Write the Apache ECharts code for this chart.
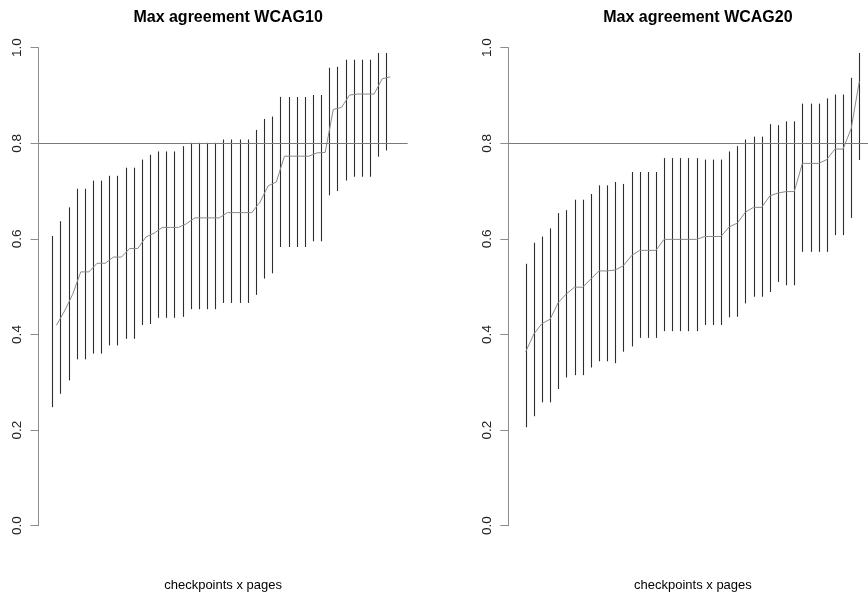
<!DOCTYPE html>
<html>
<head>
<meta charset="utf-8">
<script src="https://cdn.jsdelivr.net/npm/echarts@6/dist/echarts.min.js"></script>
<style>
  html, body { margin: 0; padding: 0; background: #fff; }
  #chart { width: 868px; height: 593px; }
</style>
</head>
<body>
<div id="chart"></div>
<script>
// ---- Data ----
var titles = ['Max agreement WCAG10', 'Max agreement WCAG20'];
var xLabel = 'checkpoints x pages';
var yTicks = [0.0, 0.2, 0.4, 0.6, 0.8, 1.0];
var threshold = 0.8;

var wcag10Low = [0.248, 0.276, 0.304, 0.348, 0.348, 0.360, 0.360, 0.377, 0.377, 0.391,
                 0.391, 0.420, 0.422, 0.435, 0.435, 0.435, 0.437, 0.453, 0.453, 0.453,
                 0.453, 0.466, 0.466, 0.466, 0.466, 0.483, 0.517, 0.528, 0.583, 0.583,
                 0.583, 0.583, 0.595, 0.595, 0.691, 0.700, 0.722, 0.730, 0.730, 0.730,
                 0.772, 0.785];
var wcag10High = [0.606, 0.637, 0.666, 0.705, 0.705, 0.722, 0.722, 0.732, 0.732, 0.749,
                  0.749, 0.766, 0.776, 0.783, 0.783, 0.783, 0.794, 0.801, 0.801, 0.801,
                  0.801, 0.808, 0.808, 0.808, 0.808, 0.828, 0.851, 0.856, 0.897, 0.897,
                  0.897, 0.897, 0.901, 0.901, 0.958, 0.960, 0.975, 0.975, 0.975, 0.975,
                  0.989, 0.989];
var wcag10Mid = [0.419, 0.449, 0.484, 0.531, 0.531, 0.549, 0.549, 0.562, 0.562, 0.580,
                 0.580, 0.604, 0.612, 0.624, 0.624, 0.624, 0.632, 0.644, 0.644, 0.644,
                 0.644, 0.655, 0.655, 0.655, 0.655, 0.677, 0.711, 0.719, 0.773, 0.773,
                 0.773, 0.773, 0.780, 0.781, 0.871, 0.875, 0.901, 0.903, 0.903, 0.903,
                 0.935, 0.939];

var wcag20Low = [0.206, 0.229, 0.258, 0.258, 0.286, 0.310, 0.315, 0.315, 0.331, 0.344,
                 0.344, 0.340, 0.364, 0.375, 0.393, 0.393, 0.393, 0.407, 0.407, 0.407,
                 0.407, 0.407, 0.420, 0.420, 0.420, 0.436, 0.437, 0.465, 0.479, 0.479,
                 0.489, 0.510, 0.503, 0.503, 0.573, 0.573, 0.573, 0.573, 0.608, 0.608,
                 0.644, 0.765];
var wcag20High = [0.548, 0.592, 0.605, 0.622, 0.654, 0.660, 0.682, 0.682, 0.694, 0.712,
                  0.712, 0.719, 0.715, 0.740, 0.740, 0.740, 0.740, 0.769, 0.769, 0.769,
                  0.769, 0.769, 0.766, 0.766, 0.766, 0.783, 0.794, 0.808, 0.814, 0.814,
                  0.840, 0.838, 0.846, 0.846, 0.883, 0.883, 0.883, 0.894, 0.902, 0.902,
                  0.937, 0.989];
var wcag20Mid = [0.364, 0.401, 0.423, 0.432, 0.467, 0.485, 0.499, 0.499, 0.516, 0.533,
                 0.533, 0.535, 0.544, 0.565, 0.576, 0.576, 0.576, 0.599, 0.599, 0.599,
                 0.599, 0.599, 0.605, 0.605, 0.605, 0.625, 0.633, 0.656, 0.666, 0.666,
                 0.690, 0.696, 0.699, 0.699, 0.758, 0.758, 0.758, 0.766, 0.788, 0.788,
                 0.831, 0.930];

// ---- Build ----
var FONT = '"Liberation Sans", Arial, Helvetica, sans-serif';
function ranges(low, high) {
  return low.map(function (l, i) { return [i + 1, l, high[i]]; });
}
function midLine(mid, shift) {
  return mid.map(function (m, i) { return [i + 1 + shift, m]; });
}
function renderRange(params, api) {
  var x = api.value(0);
  var p1 = api.coord([x, api.value(1)]);
  var p2 = api.coord([x, api.value(2)]);
  return {
    type: 'line',
    shape: { x1: Math.round(p1[0]) + 0.5, y1: p1[1], x2: Math.round(p2[0]) + 0.5, y2: p2[1] },
    style: { stroke: '#2e2e2e', lineWidth: 1.1 }
  };
}

var panels = [
  { left: 38.5, xmin: -0.69, xmax: 44.63, low: wcag10Low, high: wcag10High, mid: wcag10Mid, shift: 0.5 },
  { left: 508.3, xmin: -1.14, xmax: 44.23, low: wcag20Low, high: wcag20High, mid: wcag20Mid, shift: 0 }
];
var plotWidth = 369.2;

var option = {
  animation: false,
  backgroundColor: '#ffffff',
  title: panels.map(function (p, k) {
    return {
      text: titles[k],
      left: p.left + plotWidth / 2,
      top: 5,
      textAlign: 'center',
      textStyle: { fontFamily: FONT, fontSize: 16, fontWeight: 'bold', color: '#000' }
    };
  }),
  grid: panels.map(function (p) {
    return { left: p.left, width: plotWidth, top: 47.7, height: 478,
             containLabel: false, outerBoundsMode: 'none' };
  }),
  xAxis: panels.map(function (p, k) {
    return {
      type: 'value', gridIndex: k, min: p.xmin, max: p.xmax,
      name: xLabel, nameLocation: 'middle', nameGap: 53,
      nameTextStyle: { fontFamily: FONT, fontSize: 13, color: '#000' },
      axisLine: { show: false }, axisTick: { show: false },
      axisLabel: { show: false }, splitLine: { show: false }
    };
  }),
  yAxis: panels.map(function (p, k) {
    return {
      type: 'value', gridIndex: k, min: yTicks[0], max: yTicks[yTicks.length - 1], interval: 0.2,
      axisLine: { show: true, onZero: false, lineStyle: { color: '#8c8c8c', width: 1 } },
      axisTick: { show: true, length: 8, lineStyle: { color: '#8c8c8c', width: 1 } },
      axisLabel: {
        rotate: 90, margin: 14, fontFamily: FONT, fontSize: 13.5, color: '#222',
        formatter: function (v) { return v.toFixed(1); }
      },
      splitLine: { show: false }
    };
  }),
  series: []
};

panels.forEach(function (p, k) {
  option.series.push({
    type: 'custom', xAxisIndex: k, yAxisIndex: k,
    renderItem: renderRange,
    encode: { x: 0, y: [1, 2] },
    data: ranges(p.low, p.high),
    silent: true,
    markLine: {
      silent: true, symbol: 'none', animation: false,
      label: { show: false },
      lineStyle: { color: '#7a7a7a', type: 'solid', width: 1 },
      data: [{ yAxis: threshold }]
    }
  });
  option.series.push({
    type: 'line', xAxisIndex: k, yAxisIndex: k,
    data: midLine(p.mid, p.shift),
    showSymbol: false, symbol: 'none', silent: true,
    lineStyle: { color: '#8a8a8a', width: 1 }
  });
});

var chart = echarts.init(document.getElementById('chart'), null, { renderer: 'canvas' });
chart.setOption(option);
</script>
</body>
</html>
